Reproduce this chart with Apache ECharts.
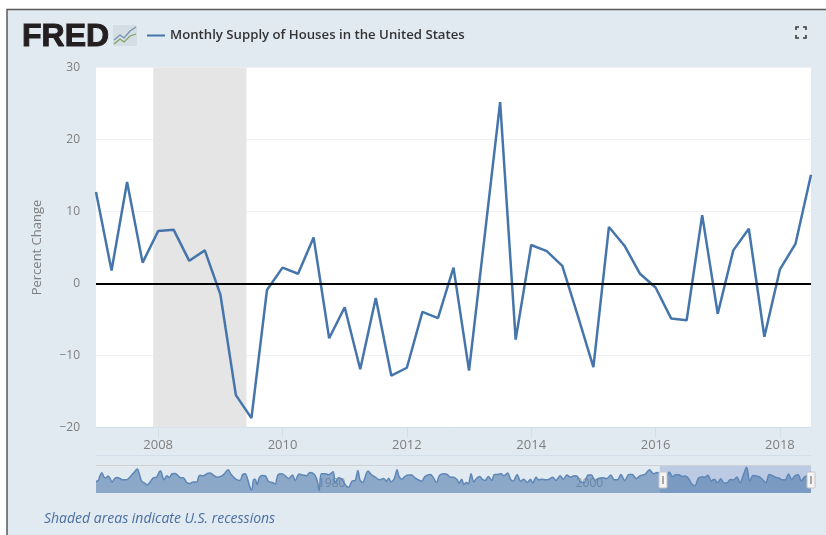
<!DOCTYPE html>
<html>
<head>
<meta charset="utf-8">
<title>Monthly Supply of Houses in the United States</title>
<script src="https://cdn.jsdelivr.net/npm/echarts@6/dist/echarts.min.js"></script>
<style>
  html, body { margin: 0; padding: 0; background: #fff; }
  #chart { width: 826px; height: 535px; }
</style>
</head>
<body>
<div id="chart"></div>
<script>
const seriesName = 'Monthly Supply of Houses in the United States'

// quarterly percent change, 2007 Q1 - 2018 Q3
const quarters = [
  2007, 2007.25, 2007.5, 2007.75, 2008, 2008.25, 2008.5, 2008.75,
  2009, 2009.25, 2009.5, 2009.75, 2010, 2010.25, 2010.5, 2010.75,
  2011, 2011.25, 2011.5, 2011.75, 2012, 2012.25, 2012.5, 2012.75,
  2013, 2013.25, 2013.5, 2013.75, 2014, 2014.25, 2014.5, 2014.75,
  2015, 2015.25, 2015.5, 2015.75, 2016, 2016.25, 2016.5, 2016.75,
  2017, 2017.25, 2017.5, 2017.75, 2018, 2018.25, 2018.5
]
const supplyChange = [
  12.7, 1.8, 14.1, 2.9, 7.3, 7.45, 3.15, 4.6,
  -1.5, -15.5, -18.7, -0.9, 2.2, 1.35, 6.4, -7.6,
  -3.3, -11.9, -2.0, -12.8, -11.7, -3.95, -4.8, 2.2,
  -12.1, 6.5, 25.2, -7.8, 5.35, 4.5, 2.45, -4.5,
  -11.6, 7.85, 5.25, 1.35, -0.55, -4.85, -5.1, 9.5,
  -4.2, 4.6, 7.6, -7.4, 1.95, 5.5, 15.1
]

const recession = [2007.92, 2009.42]
const xTicks = [2008, 2010, 2012, 2014, 2016, 2018]
const navTicks = [1980, 2000]
const selectedRange = [2006.77, 2018.5]

// navigator history before the zoomed part
const navYears = [
  1963.00, 1963.18, 1963.31, 1963.46, 1963.62, 1963.77, 1963.93, 1964.08, 1964.24, 1964.45,
  1964.65, 1964.86, 1965.07, 1965.33, 1965.53, 1965.74, 1965.95, 1966.21, 1966.36, 1966.54,
  1966.78, 1966.98, 1967.19, 1967.45, 1967.71, 1967.92, 1968.02, 1968.18, 1968.28, 1968.49,
  1968.69, 1968.90, 1969.16, 1969.37, 1969.57, 1969.78, 1970.04, 1970.30, 1970.56, 1970.82,
  1971.03, 1971.34, 1971.60, 1971.85, 1972.11, 1972.37, 1972.68, 1972.94, 1973.25, 1973.51,
  1973.82, 1974.18, 1974.37, 1974.58, 1974.78, 1974.99, 1975.10, 1975.22, 1975.35, 1975.51,
  1975.66, 1975.87, 1976.13, 1976.39, 1976.70, 1976.91, 1977.12, 1977.43, 1977.69, 1977.94,
  1978.25, 1978.46, 1978.77, 1979.08, 1979.34, 1979.60, 1979.96, 1980.17, 1980.33, 1980.48,
  1980.79, 1981.05, 1981.41, 1981.57, 1981.83, 1982.09, 1982.35, 1982.61, 1982.87, 1983.12,
  1983.33, 1983.49, 1983.69, 1984.11, 1984.42, 1984.68, 1984.99, 1985.33, 1985.54, 1985.72,
  1985.90, 1986.16, 1986.37, 1986.52, 1986.73, 1986.99, 1987.25, 1987.50, 1987.76, 1988.02,
  1988.28, 1988.54, 1988.96, 1989.16, 1989.42, 1989.68, 1989.99, 1990.25, 1990.51, 1990.77,
  1991.03, 1991.18, 1991.39, 1991.55, 1991.75, 1991.91, 1992.11, 1992.32, 1992.53, 1992.79,
  1992.98, 1993.20, 1993.46, 1993.72, 1993.93, 1994.19, 1994.45, 1994.65, 1994.96, 1995.17,
  1995.38, 1995.69, 1995.95, 1996.21, 1996.47, 1996.73, 1996.90, 1997.16, 1997.37, 1997.63,
  1997.88, 1998.19, 1998.45, 1998.71, 1999.02, 1999.28, 1999.54, 1999.85, 2000.11, 2000.37,
  2000.58, 2000.89, 2001.20, 2001.46, 2001.72, 2002.03, 2002.34, 2002.65, 2002.96, 2003.22,
  2003.48, 2003.74, 2004.05, 2004.36, 2004.62, 2004.93, 2005.24, 2005.60, 2005.96, 2006.28,
  2006.56, 2006.82
]
const navValues = [
  -9.0, -6.5, 4.9, 12.2, 1.6, 0, 4.1, -0.8, -10.6, -1.6,
  0.8, -1.6, -4.9, -4.9, -1.6, 5.7, 13, 21.1, 9.8, -8.1,
  -13, -17.1, -10.6, 0, 1.6, 14.6, 16.3, 1.6, -4.9, 4.9,
  0.8, 9.8, 10.6, 4.9, 0, 0, -11.4, -13.8, -9.8, -9.8,
  5.7, 4.9, 9.8, 11.4, 6.5, 1.6, 3.3, 9, 19.5, 7.3,
  -2.4, -6.5, 7.3, 9.8, -4.9, -26, -29.3, -4.9, -3.3, -17.1,
  -0.8, 5.7, 4.9, -9, -11.4, -14.6, 7.3, 9.8, 4.9, -1.6,
  6.5, -6.5, 9, 6.5, 4.9, 13, 8.1, -6.5, -30.9, 9.8,
  9.8, 7.3, 14.6, -13, 0, -3.3, -17.1, -22.8, -8.1, -6.5,
  17.9, -4.9, -11.4, 16.3, 6.5, 1.6, -4.9, -1.6, -8.1, -0.8,
  -9.8, -1.6, 19.5, 3.3, -3.3, 3.3, 6.5, 6.5, 0, -4.9,
  -8.1, 3.3, 8.1, 1.6, -11.4, 6.5, 9.8, 8.1, 1.6, 1.6,
  -4.9, -13, -3.3, -16.3, -11.4, -14.6, 9.8, -9.8, -1.6, 3.3,
  -3.3, -6.5, 3.3, -6.5, 8.1, 8.1, 9.8, 4.9, 11.4, -3.3,
  -8.1, 8.1, -8.1, -3.3, -11.4, -3.3, -13, 1.6, -4.9, -3.3,
  -4.9, -3.3, 1.6, -6.5, 4.9, -3.3, 6.5, 1.6, 4.9, 3.3,
  -9, -11.4, 6.5, 6.5, -6.5, -0.8, 0, -1.6, 6.5, -4.9,
  -4.9, 8.1, -6.5, 8.1, 8.1, -1.6, 4.9, 8.1, 19.5, 9.8,
  13, 8.1
]

const mainData = quarters.map((q, i) => [q, supplyChange[i]])
const navData = navYears.map((y, i) => [y, navValues[i]]).concat(mainData)

const font = '"Open Sans", sans-serif'
const panelColor = '#e1e9f1'
const lineColor = '#4575aa'

const myChart = echarts.init(document.getElementById('chart'), null, { renderer: 'canvas' })

const corner = (pts) => ({
  type: 'polyline',
  shape: { points: pts },
  style: { stroke: '#3a3a3a', lineWidth: 1.6, fill: null },
  z: 5
})

const option = {
  animation: false,
  backgroundColor: '#fff',
  textStyle: { fontFamily: font },
  legend: {
    left: 142,
    top: 24,
    data: [seriesName],
    icon: 'rect',
    itemWidth: 18,
    itemHeight: 2,
    itemGap: 6,
    textStyle: { color: '#333', fontSize: 13.2, fontWeight: 600, fontFamily: font }
  },
  grid: [
    { left: 96, width: 715, top: 67.5, height: 360, show: true, backgroundColor: '#fff', borderWidth: 0 },
    { left: 96, width: 715, top: 466, height: 27, show: false }
  ],
  xAxis: [
    {
      type: 'value',
      gridIndex: 0,
      min: 2007,
      max: 2018.5,
      splitLine: { show: false },
      axisLine: { onZero: false, lineStyle: { color: '#d3deea', width: 1 } },
      axisTick: { length: 10, customValues: xTicks, lineStyle: { color: '#d3deea' } },
      axisLabel: {
        customValues: xTicks,
        formatter: (v) => String(v),
        color: '#7f7f7f',
        fontSize: 13,
        margin: 11,
        fontFamily: font
      }
    },
    {
      type: 'value',
      gridIndex: 1,
      min: 1963,
      max: 2018.5,
      splitLine: { show: false },
      axisLine: { show: false },
      axisTick: { show: false },
      axisLabel: {
        inside: true,
        customValues: navTicks,
        formatter: (v) => String(v),
        align: 'left',
        padding: [0, 0, 0, 3],
        color: '#9a9a9a',
        fontSize: 12,
        margin: 3,
        fontFamily: font
      }
    }
  ],
  yAxis: [
    {
      type: 'value',
      gridIndex: 0,
      min: -20,
      max: 30,
      interval: 10,
      name: 'Percent Change',
      nameLocation: 'middle',
      nameGap: 52,
      nameRotate: 90,
      nameTextStyle: { color: '#7f7f7f', fontSize: 13, fontFamily: font },
      axisLine: { show: false },
      axisTick: { show: false },
      splitLine: { lineStyle: { color: '#eef0f3', width: 1 } },
      axisLabel: {
        color: '#7f7f7f',
        fontSize: 12,
        margin: 16,
        fontFamily: font,
        formatter: (v) => String(v).replace('-', '\u2212')
      }
    },
    {
      type: 'value',
      gridIndex: 1,
      min: -36.6,
      max: 28.5,
      show: false
    }
  ],
  series: [
    {
      name: seriesName,
      type: 'line',
      xAxisIndex: 0,
      yAxisIndex: 0,
      data: mainData,
      showSymbol: false,
      symbol: 'none',
      lineStyle: { color: lineColor, width: 2.5 },
      itemStyle: { color: lineColor },
      markArea: {
        silent: true,
        itemStyle: { color: '#e5e5e5' },
        data: [[{ xAxis: recession[0] }, { xAxis: recession[1] }]]
      },
      markLine: {
        silent: true,
        symbol: 'none',
        label: { show: false },
        lineStyle: { color: '#000', width: 2, type: 'solid' },
        data: [{ yAxis: 0 }]
      }
    },
    {
      name: 'navigator',
      type: 'line',
      xAxisIndex: 1,
      yAxisIndex: 1,
      data: navData,
      symbol: 'none',
      smooth: 0.3,
      lineStyle: { color: '#5e86b6', width: 1.5 },
      areaStyle: { color: '#4572a7', opacity: 0.55, origin: 'start' },
      markArea: {
        silent: true,
        itemStyle: { color: 'rgba(102,133,194,0.3)' },
        data: [[{ xAxis: selectedRange[0] }, { xAxis: selectedRange[1] }]]
      }
    }
  ],
  graphic: [
    // panel
    {
      type: 'rect',
      z: -10,
      shape: { x: 7, y: 9.5, width: 830, height: 540 },
      style: { fill: panelColor, stroke: '#5a5a5a', lineWidth: 1.5 }
    },
    // navigator rules
    {
      type: 'line',
      z: 1,
      shape: { x1: 96, y1: 455.5, x2: 811, y2: 455.5 },
      style: { stroke: '#d3deea', lineWidth: 1 }
    },
    {
      type: 'line',
      z: 1,
      shape: { x1: 96, y1: 465.5, x2: 811, y2: 465.5 },
      style: { stroke: '#cfd2d4', lineWidth: 1 }
    },
    // handles
    {
      type: 'rect',
      z: 6,
      shape: { x: 659, y: 472, width: 8, height: 16, r: 1 },
      style: { fill: '#f4f4f4', stroke: '#c4c4c4', lineWidth: 1 }
    },
    {
      type: 'line',
      z: 7,
      shape: { x1: 663, y1: 476, x2: 663, y2: 484 },
      style: { stroke: '#a8a8a8', lineWidth: 2 }
    },
    {
      type: 'rect',
      z: 6,
      shape: { x: 807, y: 472, width: 8, height: 16, r: 1 },
      style: { fill: '#f4f4f4', stroke: '#c4c4c4', lineWidth: 1 }
    },
    {
      type: 'line',
      z: 7,
      shape: { x1: 811, y1: 476, x2: 811, y2: 484 },
      style: { stroke: '#a8a8a8', lineWidth: 2 }
    },
    // FRED logo
    {
      type: 'text',
      z: 5,
      x: 22,
      y: 21,
      style: {
        text: 'FRED',
        fill: '#231f20',
        stroke: '#231f20',
        lineWidth: 1,
        font: '900 32px "Liberation Sans", Arial, sans-serif',
        textAlign: 'left'
      }
    },
    {
      type: 'rect',
      z: 4,
      shape: { x: 113, y: 25, width: 24, height: 21, r: 1 },
      style: { fill: '#d5dde4' }
    },
    {
      type: 'polyline',
      z: 5,
      shape: { points: [[114, 40], [120, 35], [124, 38], [130, 31], [136, 27]] },
      style: { stroke: '#6f8fb4', lineWidth: 1.2, fill: null }
    },
    {
      type: 'polyline',
      z: 5,
      shape: { points: [[114, 44], [120, 39], [124, 42], [130, 36], [136, 34]] },
      style: { stroke: '#7fa35a', lineWidth: 1.2, fill: null }
    },
    // fullscreen icon
    corner([[796, 30], [796, 27], [799, 27]]),
    corner([[803, 27], [806, 27], [806, 30]]),
    corner([[796, 35], [796, 38], [799, 38]]),
    corner([[803, 38], [806, 38], [806, 35]]),
    // footer note
    {
      type: 'text',
      z: 5,
      x: 44,
      y: 512,
      style: {
        text: 'Shaded areas indicate U.S. recessions',
        fill: '#4a6f9f',
        font: 'italic 14px "Open Sans", sans-serif',
        textAlign: 'left'
      }
    }
  ]
}

myChart.setOption(option)
</script>
</body>
</html>
